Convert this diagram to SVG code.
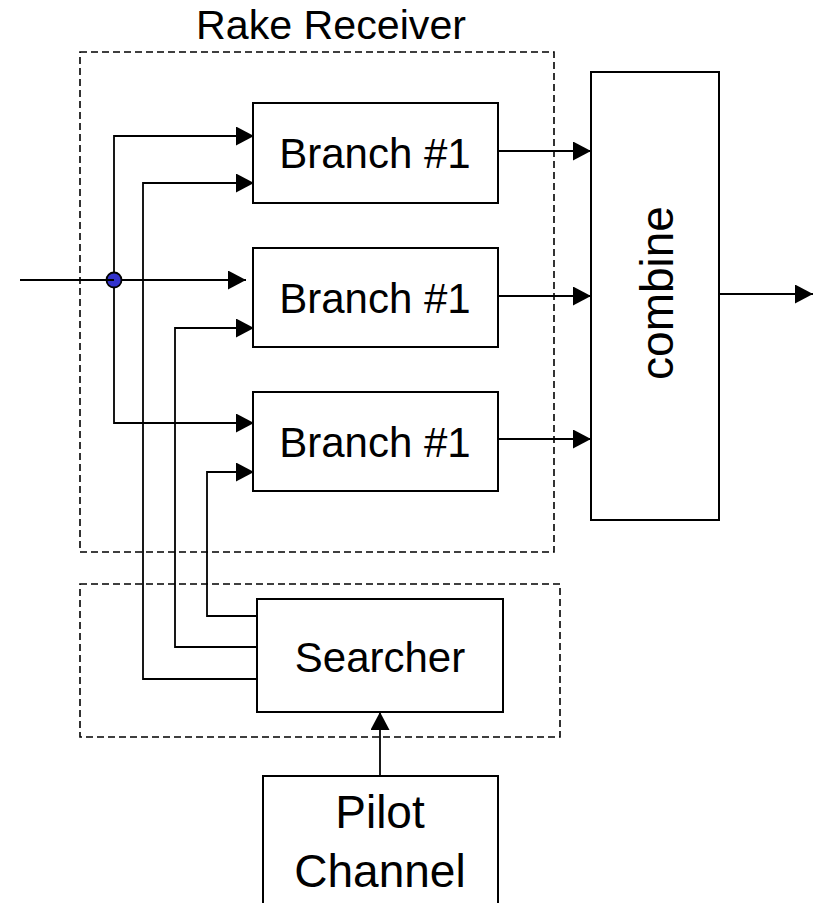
<svg xmlns="http://www.w3.org/2000/svg" width="820" height="903" viewBox="0 0 820 903">
<defs>
<style>
.box{fill:#fff;stroke:#000;stroke-width:2}
.dash{fill:none;stroke:#000;stroke-width:1.6;stroke-dasharray:7 4}
.ln{fill:none;stroke:#000;stroke-width:1.8}
.t{font-family:"Liberation Sans",Arial,sans-serif;fill:#000;text-anchor:middle}
</style>
<marker id="ah" viewBox="0 0 18 19" refX="18" refY="9.5" markerWidth="18" markerHeight="19" markerUnits="userSpaceOnUse" orient="auto">
<path d="M0,0 L18,9.5 L0,19 Z" fill="#000"/>
</marker>
</defs>
<rect width="820" height="903" fill="#fff"/>
<g id="rake-receiver">
<rect class="dash" x="80" y="52" width="474" height="500"/>
<text class="t" x="331" y="39" font-size="40" textLength="270" lengthAdjust="spacingAndGlyphs">Rake Receiver</text>
</g>
<g id="searcher-group">
<rect class="dash" x="80" y="584" width="480" height="153"/>
</g>
<g id="branch1">
<rect class="box" x="253" y="103" width="245" height="100"/>
<text class="t" x="375" y="168" font-size="42">Branch #1</text>
</g>
<g id="branch2">
<rect class="box" x="253" y="248" width="245" height="99"/>
<text class="t" x="375" y="313" font-size="42">Branch #1</text>
</g>
<g id="branch3">
<rect class="box" x="253" y="392" width="245" height="99"/>
<text class="t" x="375" y="457" font-size="42">Branch #1</text>
</g>
<g id="combine">
<rect class="box" x="591" y="72" width="128" height="448"/>
<text class="t" font-size="46" transform="translate(673,293) rotate(-90)">combine</text>
</g>
<g id="searcher">
<rect class="box" x="257" y="599" width="246" height="113"/>
<text class="t" x="380" y="672" font-size="42">Searcher</text>
</g>
<g id="pilot">
<rect class="box" x="263" y="776" width="235" height="140"/>
<text class="t" x="380" y="828" font-size="46">Pilot</text>
<text class="t" x="380" y="887" font-size="46">Channel</text>
</g>
<g id="connectors">
<polyline class="ln" points="114,280 246,280" marker-end="url(#ah)"/>
<polyline class="ln" points="114,280 114,136 254,136" marker-end="url(#ah)"/>
<polyline class="ln" points="114,280 114,423 254,423" marker-end="url(#ah)"/>
<polyline class="ln" points="257,679 143,679 143,183 254,183" marker-end="url(#ah)"/>
<polyline class="ln" points="257,647 175,647 175,328 254,328" marker-end="url(#ah)"/>
<polyline class="ln" points="257,616 207,616 207,472 254,472" marker-end="url(#ah)"/>
<polyline class="ln" points="497,151 591,151" marker-end="url(#ah)"/>
<polyline class="ln" points="497,296 591,296" marker-end="url(#ah)"/>
<polyline class="ln" points="497,439 591,439" marker-end="url(#ah)"/>
<polyline class="ln" points="719,294 813,294" marker-end="url(#ah)"/>
<polyline class="ln" points="380,776 380,712" marker-end="url(#ah)"/>
<circle cx="114" cy="280" r="7.5" fill="#3333cc" stroke="#000" stroke-width="1.8"/>
<polyline class="ln" points="20,280 114,280"/>
</g>
</svg>
